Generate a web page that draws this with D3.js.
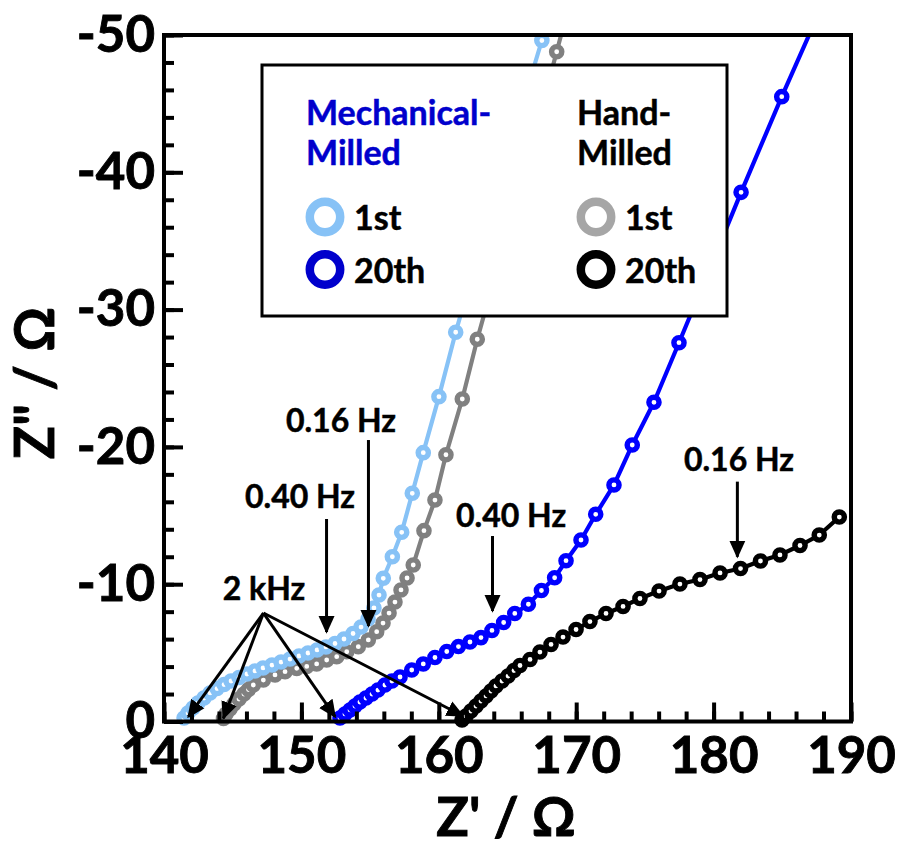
<!DOCTYPE html>
<html><head><meta charset="utf-8">
<script src="https://cdn.jsdelivr.net/npm/d3@7"></script>
<style>
html,body{margin:0;padding:0;background:#fff;}
svg{display:block;}
text{font-family:Lato,"Open Sans",sans-serif;font-weight:700;}
</style></head>
<body>
<svg id="chart" width="897" height="850"></svg>
<script>
// ---------- data (Z' , Z'') ----------
const mm1st = [[141.46,-0.25],[141.75,-0.62],[142.11,-0.98],[142.47,-1.35],[142.91,-1.71],[143.35,-2.08],[143.86,-2.40],[144.37,-2.69],[144.88,-2.95],[145.46,-3.20],[146.04,-3.46],[146.62,-3.68],[147.21,-3.90],[147.86,-4.11],[148.52,-4.33],[149.17,-4.55],[149.83,-4.77],[150.48,-4.99],[151.14,-5.21],[151.79,-5.43],[152.45,-5.68],[153.10,-6.01],[153.76,-6.41],[154.34,-6.88],[154.85,-7.47],[155.28,-8.27],[155.65,-9.21],[155.96,-10.43],[156.62,-12.00],[157.30,-13.78],[158.07,-16.62],[158.87,-19.58],[160.01,-23.66],[161.23,-28.35],[162.9,-34.2],[165.0,-41.3],[167.5,-49.6],[170.2,-59.0]];
const hm1st = [[144.33,-0.22],[144.51,-0.55],[144.80,-0.91],[145.09,-1.27],[145.46,-1.64],[145.82,-2.00],[146.15,-2.33],[146.50,-2.66],[147.23,-3.02],[148.08,-3.39],[148.81,-3.63],[149.66,-3.87],[150.39,-4.01],[151.11,-4.19],[151.84,-4.48],[152.57,-4.72],[153.30,-5.08],[154.14,-5.45],[154.87,-5.94],[155.48,-6.54],[155.94,-7.17],[156.38,-7.90],[156.81,-8.70],[157.25,-9.58],[157.69,-10.45],[158.14,-11.40],[158.92,-13.90],[159.72,-16.13],[160.52,-19.43],[161.71,-23.49],[162.80,-27.84],[164.4,-33.6],[166.4,-40.6],[168.58,-48.78],[171.0,-58.0]];
const mm20th = [[152.81,-0.25],[153.17,-0.55],[153.54,-0.84],[153.90,-1.13],[154.26,-1.42],[154.70,-1.71],[155.14,-2.00],[155.57,-2.29],[156.08,-2.66],[156.59,-2.95],[157.18,-3.24],[158.03,-3.75],[158.87,-4.19],[159.72,-4.66],[160.58,-5.10],[161.43,-5.46],[162.27,-5.79],[163.07,-6.11],[163.87,-6.63],[164.72,-7.21],[165.53,-7.87],[166.52,-8.54],[167.47,-9.54],[168.43,-10.47],[169.26,-11.71],[170.35,-13.22],[171.42,-15.09],[172.75,-17.23],[174.08,-20.14],[175.66,-23.25],[177.48,-27.59],[179.74,-33.03],[182.00,-38.54],[184.96,-45.51],[188.40,-53.28]];
const hm20th = [[161.69,-0.11],[161.98,-0.40],[162.34,-0.76],[162.71,-1.13],[163.07,-1.49],[163.44,-1.86],[163.80,-2.22],[164.16,-2.59],[164.60,-2.95],[165.04,-3.31],[165.47,-3.71],[165.91,-4.08],[166.64,-4.52],[167.36,-5.06],[168.17,-5.61],[169.04,-6.15],[169.99,-6.70],[171.00,-7.28],[172.17,-7.87],[173.41,-8.38],[174.64,-8.96],[176.03,-9.50],[177.55,-10.01],[179.01,-10.34],[180.47,-10.82],[181.96,-11.14],[183.41,-11.69],[184.83,-12.13],[186.29,-12.82],[187.69,-13.58],[189.15,-14.89]];

const xTicks = [140,150,160,170,180,190];
const xTickLabels = ["140","150","160","170","180","190"];
const yTicks = [0,-10,-20,-30,-40,-50];
const yTickLabels = ["0","-10","-20","-30","-40","-50"];
const xMinor = d3.range(140,191,2);
const yMinor = d3.range(0,-51,-2);

// annotations: label, text anchor (x,y), arrow from (x,y) to (x,y)
const annotations = [
  {label:"0.16 Hz", tx:152.88, ty:-21.09, arrows:[[154.88,-20.50,154.88,-6.96]]},
  {label:"0.40 Hz", tx:149.90, ty:-15.55, arrows:[[151.83,-14.75,151.83,-6.52]]},
  {label:"0.40 Hz", tx:165.26, ty:-14.17, arrows:[[163.91,-13.51,163.91,-8.05]]},
  {label:"0.16 Hz", tx:181.85, ty:-18.25, arrows:[[181.73,-17.47,181.73,-12.00]]},
  {label:"2 kHz", tx:147.28, ty:-8.85, arrows:[[147.24,-7.90,141.77,-0.35],[147.24,-7.90,144.32,-0.23],[147.24,-7.90,152.45,-0.35],[147.24,-7.90,161.76,-0.40]]}
];

const series = [
  {name:"HM 20th", data:hm20th, color:"#000000"},
  {name:"HM 1st", data:hm1st, color:"#808080"},
  {name:"MM 20th", data:mm20th, color:"#0000FF"},
  {name:"MM 1st", data:mm1st, color:"#87C2F6"}
];

// ---------- drawing ----------
const svg = d3.select("#chart");
const L=164, R=851, T=35, B=721.5;
const x = d3.scaleLinear().domain([140,190]).range([L,R]);
const y = d3.scaleLinear().domain([0,-50]).range([B,T]);

svg.append("defs").append("clipPath").attr("id","clip")
  .append("rect").attr("x",L).attr("y",T).attr("width",R-L).attr("height",850-T);

const marker = svg.select("defs").append("marker").attr("id","ah")
  .attr("viewBox","0 0 10 10").attr("refX",9).attr("refY",5)
  .attr("markerWidth",6).attr("markerHeight",6).attr("markerUnits","strokeWidth")
  .attr("orient","auto");
marker.append("path").attr("d","M0,0.5 L10,5 L0,9.5 Z").attr("fill","#000");

const plot = svg.append("g").attr("clip-path","url(#clip)");
const line = d3.line().x(d=>x(d[0])).y(d=>y(d[1]));
series.forEach(s=>{
  const g = plot.append("g");
  g.append("path").datum(s.data).attr("d",line).attr("fill","none")
    .attr("stroke",s.color).attr("stroke-width",4.2).attr("stroke-linejoin","round");
  g.selectAll("circle").data(s.data).join("circle")
    .attr("cx",d=>x(d[0])).attr("cy",d=>y(d[1])).attr("r",5.1)
    .attr("fill","#fff").attr("stroke",s.color).attr("stroke-width",5.4);
});

// axes
const axStyle = g=>{ g.select(".domain").remove(); g.selectAll("line").attr("stroke","#000").attr("stroke-width",4);
  g.selectAll("text").attr("font-size",51).attr("font-family","Lato").attr("font-weight",700).attr("fill","#000")
   .attr("stroke","#000").attr("stroke-width",0.9); };
svg.append("g").attr("transform",`translate(${L},0)`)
  .call(d3.axisLeft(y).tickValues(yMinor).tickSize(-10).tickFormat(""))
  .call(axStyle);
svg.append("g").attr("transform",`translate(${L},0)`)
  .call(d3.axisLeft(y).tickValues(yTicks).tickSize(-19).tickPadding(9).tickFormat((d,i)=>yTickLabels[i]))
  .call(axStyle);
svg.append("g").attr("transform",`translate(0,${B})`)
  .call(d3.axisBottom(x).tickValues(xMinor).tickSize(-10).tickFormat(""))
  .call(axStyle);
svg.append("g").attr("transform",`translate(0,${B})`)
  .call(d3.axisBottom(x).tickValues(xTicks).tickSize(-19).tickPadding(15).tickFormat((d,i)=>xTickLabels[i]))
  .call(axStyle);

svg.append("rect").attr("x",L).attr("y",T).attr("width",R-L).attr("height",B-T)
  .attr("fill","none").attr("stroke","#000").attr("stroke-width",4);

// axis titles
svg.append("text").attr("x",506).attr("y",836).attr("text-anchor","middle")
  .attr("font-size",54).attr("stroke","#000").attr("stroke-width",0.9).text("Z' / Ω");
svg.append("text").attr("transform","translate(54,383) rotate(-90)").attr("text-anchor","middle")
  .attr("font-size",55).attr("stroke","#000").attr("stroke-width",0.9).text('Z" / Ω');

// legend
const lg = svg.append("g");
lg.append("rect").attr("x",262).attr("y",65).attr("width",465).attr("height",251)
  .attr("fill","#fff").attr("stroke","#000").attr("stroke-width",3);
const legendCols = [
  {title:["Mechanical-","Milled"], titleColor:"#0000CC", x:306, items:[{label:"1st",color:"#87C2F6"},{label:"20th",color:"#0000CC"}]},
  {title:["Hand-","Milled"], titleColor:"#000000", x:577, items:[{label:"1st",color:"#A6A6A6"},{label:"20th",color:"#000000"}]}
];
legendCols.forEach(c=>{
  c.title.forEach((t,i)=>lg.append("text").attr("x",c.x).attr("y",125+i*40).attr("font-size",34)
    .attr("fill",c.titleColor).attr("stroke",c.titleColor).attr("stroke-width",0.5).text(t));
  c.items.forEach((it,i)=>{
    lg.append("circle").attr("cx",c.x+19).attr("cy",217+i*52.5).attr("r",15.2)
      .attr("fill","#fff").attr("stroke",it.color).attr("stroke-width",8.5);
    lg.append("text").attr("x",c.x+48).attr("y",230+i*52.5).attr("font-size",34).attr("fill","#000")
      .attr("stroke","#000").attr("stroke-width",0.5).text(it.label);
  });
});

// annotations
const an = svg.append("g");
annotations.forEach(a=>{
  an.append("text").attr("x",x(a.tx)).attr("y",y(a.ty)).attr("text-anchor","middle")
    .attr("font-size",32).attr("fill","#000").attr("stroke","#000").attr("stroke-width",0.5).text(a.label);
  a.arrows.forEach(r=>{
    an.append("line").attr("x1",x(r[0])).attr("y1",y(r[1])).attr("x2",x(r[2])).attr("y2",y(r[3]))
      .attr("stroke","#000").attr("stroke-width",3).attr("marker-end","url(#ah)");
  });
});
</script>
</body></html>
